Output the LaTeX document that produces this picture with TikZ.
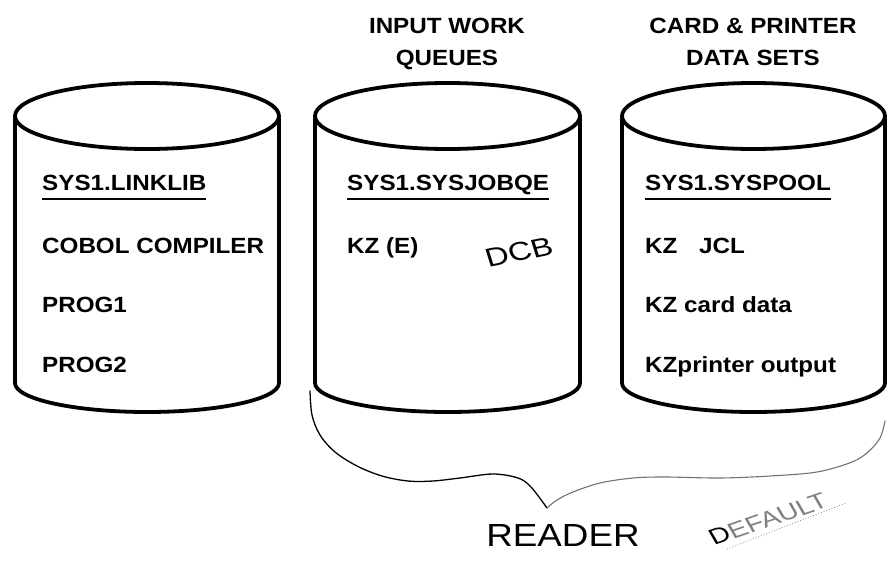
\documentclass[tikz,border=0pt]{standalone}
\usepackage{fontspec}
\setmainfont{Liberation Sans}
\newcommand\drawcyl[3]{%
  % #1 centre x, #2 x radius, #3 name
  \coordinate (#3-top) at (#1,116);
  \draw[cylline] (#3-top) ellipse [x radius=#2pt, y radius=33pt];
  \draw[cylline] ({#1-#2},118) -- ({#1-#2},383)
    .. controls ({#1-#2},{383+0.5523*29}) and ({#1-0.5523*#2},412) .. (#1,412)
    .. controls ({#1+0.5523*#2},412) and ({#1+#2},{383+0.5523*29}) .. ({#1+#2},383)
    -- ({#1+#2},118);
}
\begin{document}
\begin{tikzpicture}[x=1pt,y=-1pt,
  cylline/.style={line width=3.8pt, line join=round, line cap=round},
  body/.style={font=\bfseries\fontsize{22}{26}\selectfont, inner sep=0pt, anchor=base west, xscale=1.1},
  ttl/.style={font=\bfseries\fontsize{22}{26}\selectfont, inner sep=0pt, anchor=base, xscale=1.1},
  ul/.style={line width=2.4pt},
  hand/.style={font=\fontsize{32}{36}\selectfont, inner sep=0pt, xscale=1.15},
  bracel/.style={line width=1.3pt, line cap=round},
  bracer/.style={line width=1.1pt, line cap=round, black!55},
]
\useasboundingbox (0,0) rectangle (895,563);

% titles
\node[ttl] (t1a) at (447,33) {INPUT WORK};
\node[ttl] (t1b) at (447,65) {QUEUES};
\node[ttl] (t2a) at (753,33) {CARD \& PRINTER};
\node[ttl] (t2b) at (753,65) {DATA SETS};

% cylinders
\drawcyl{147}{132}{c1}
\drawcyl{447.5}{132.5}{c2}
\drawcyl{753.5}{131.5}{c3}

% left cylinder texts
\node[body] (l0) at (42,190) {SYS1.LINKLIB};
\node[body] (l1) at (42,253) {COBOL COMPILER};
\node[body] (l2) at (42,312) {PROG1};
\node[body] (l3) at (42,372) {PROG2};
\draw[ul] ([yshift=-9pt]l0.base west) -- ([yshift=-9pt]l0.base east);

% middle cylinder texts
\node[body] (m0) at (347,190) {SYS1.SYSJOBQE};
\node[body] (m1) at (347,253) {KZ (E)};
\draw[ul] ([yshift=-9pt]m0.base west) -- ([yshift=-9pt]m0.base east);
\node[font=\fontsize{26}{30}\selectfont, inner sep=0pt, xscale=1.25, rotate=14] (dcb) at (519,252) {DCB};

% right cylinder texts
\node[body] (r0) at (645,190) {SYS1.SYSPOOL};
\node[body] (r1) at (645,253) {KZ\hspace{0.9em}JCL};
\node[body] (r2) at (645,312) {KZ card data};
\node[body] (r3) at (645,372) {KZprinter output};
\draw[ul] ([yshift=-9pt]r0.base west) -- ([yshift=-9pt]r0.base east);

% handwritten brace
\coordinate (bstart) at (310,391);
\coordinate (btip) at (547,508);
\coordinate (bend) at (885,421);
\draw[bracel] plot[smooth, tension=0.55] coordinates {(bstart) (312,415) (320,435) (335,452) (357,466) (382,476) (408,481) (433,481) (460,478) (493,474) (518,478) (531,487) (btip)};
\draw[bracer] plot[smooth, tension=0.55] coordinates {(btip) (557,500) (573,492) (600,483) (633,478) (665,477) (720,478) (770,476) (817,472) (852,462) (868,452) (880,438) (bend)};

% handwritten labels
\node[hand] (reader) at (563,535) {READER};
\node[font=\fontsize{22}{26}\selectfont, inner sep=0pt, xscale=1.3, rotate=24, anchor=base west] (default) at (714,546) {D\textcolor{black!50}{EFAULT}};
\coordinate (dl1) at (727,549);
\coordinate (dl2) at (846,503);
\draw[black!45, line width=0.8pt, dotted] (dl1) -- (dl2);
\end{tikzpicture}
\end{document}
